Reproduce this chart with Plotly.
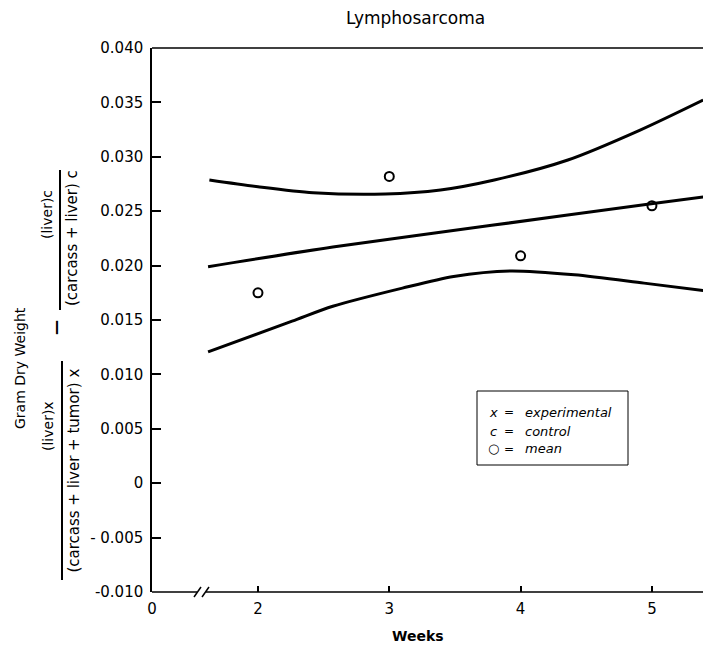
import plotly.graph_objects as go

# ---- data ----
mean_weeks = [2, 3, 4, 5]
mean_vals = [0.0175, 0.0282, 0.0209, 0.0255]

upper_weeks = [1.63, 2.0, 2.42, 2.97, 3.39, 3.80, 4.36, 4.91, 5.39]
upper_vals = [0.02787, 0.02725, 0.0267, 0.02658, 0.02695, 0.02787, 0.02971, 0.03246, 0.03522]

middle_weeks = [1.62, 2.57, 3.78, 5.01, 5.39]
middle_vals = [0.0199, 0.0217, 0.0237, 0.0257, 0.0263]

lower_weeks = [1.62, 2.26, 2.57, 3.10, 3.49, 3.92, 4.41, 4.94, 5.39]
lower_vals = [0.01207, 0.01489, 0.01626, 0.01793, 0.0190, 0.01951, 0.01915, 0.01839, 0.01772]

x_tickvals = [1.193, 2, 3, 4, 5]
x_ticktext = ["0", "2", "3", "4", "5"]
y_tickvals = [0.040, 0.035, 0.030, 0.025, 0.020, 0.015, 0.010, 0.005, 0.0, -0.005, -0.010]
y_ticktext = ["0.040", "0.035", "0.030", "0.025", "0.020", "0.015", "0.010", "0.005", "0", "- 0.005", "-0.010"]

FONT = "DejaVu Sans"
W, H = 703, 648
L, R, T, B = 152, 0, 48, 56
PW, PH = W - L - R, H - T - B


def px(x):
    return (x - L) / PW


def py(y):
    return (H - B - y) / PH


fig = go.Figure()
for xs, ys in [(upper_weeks, upper_vals), (middle_weeks, middle_vals), (lower_weeks, lower_vals)]:
    fig.add_trace(go.Scatter(x=xs, y=ys, mode="lines",
                             line=dict(color="black", width=3, shape="spline", smoothing=0.8),
                             showlegend=False, hoverinfo="skip"))
fig.add_trace(go.Scatter(x=mean_weeks, y=mean_vals, mode="markers",
                         marker=dict(symbol="circle-open", size=9, color="black",
                                     line=dict(width=2, color="black")),
                         showlegend=False))

shapes = []
line_style = dict(color="black", width=1.5)
# top frame line
shapes.append(dict(type="line", xref="paper", yref="paper", x0=0, x1=1, y0=1, y1=1, line=line_style))
# bottom axis with break
shapes.append(dict(type="line", xref="paper", yref="paper", x0=0, x1=px(197), y0=0, y1=0, line=line_style))
shapes.append(dict(type="line", xref="paper", yref="paper", x0=px(206), x1=1, y0=0, y1=0, line=line_style))
for a, b in [(194, 201), (202, 209)]:
    shapes.append(dict(type="line", xref="paper", yref="paper", x0=px(a), x1=px(b),
                       y0=py(597), y1=py(587), line=line_style))
# fraction bars of the y title
shapes.append(dict(type="line", xref="paper", yref="paper", x0=px(60), x1=px(60),
                   y0=py(170), y1=py(310), line=dict(color="black", width=2)))
shapes.append(dict(type="line", xref="paper", yref="paper", x0=px(62), x1=px(62),
                   y0=py(361), y1=py(580), line=dict(color="black", width=2)))
# legend box
shapes.append(dict(type="rect", xref="paper", yref="paper", x0=px(477), x1=px(628),
                   y0=py(465), y1=py(391), line=dict(color="black", width=1)))

ann = []


def add_text(text, x, y, size=14, angle=0, xanchor="center"):
    ann.append(dict(text=text, xref="paper", yref="paper", x=px(x), y=py(y),
                    xanchor=xanchor, yanchor="middle", showarrow=False, textangle=angle,
                    font=dict(family=FONT, size=size, color="black")))


add_text("Lymphosarcoma", 415, 18, size=17)
add_text("<b>Weeks</b>", 418, 636, size=14)
add_text("Gram Dry Weight", 20, 368, size=14, angle=-90)
add_text("<b>\u2014</b>", 56, 328, size=15, angle=-90)
add_text("(liver)c", 47, 215, size=14, angle=-90)
add_text("(carcass + liver) c", 72, 238, size=15, angle=-90)
add_text("(liver)x", 48, 426, size=14, angle=-90)
add_text("(carcass + liver + tumor) x", 73.6, 471, size=15, angle=-90)

leg_rows = [("<i>x</i>", "experimental", 412), ("<i>c</i>", "control", 431), ("\u25cb", "mean", 449)]
for sym, word, yy in leg_rows:
    add_text(sym, 493, yy, size=13)
    add_text("=", 509, yy, size=12)
    add_text("<i>" + word + "</i>", 523, yy, size=13, xanchor="left")

fig.update_layout(
    width=W, height=H,
    margin=dict(l=L, r=R, t=T, b=B),
    paper_bgcolor="white", plot_bgcolor="white",
    font=dict(family=FONT, size=15, color="black"),
    shapes=shapes, annotations=ann,
    showlegend=False,
)
fig.update_xaxes(range=[1.193, 5.389], tickvals=x_tickvals, ticktext=x_ticktext,
                 ticks="inside", ticklen=6, tickwidth=1.5, tickcolor="black",
                 showline=False, showgrid=False, zeroline=False,
                 ticklabelstandoff=6, tickfont=dict(family=FONT, size=15))
fig.update_yaxes(range=[-0.010, 0.040], tickvals=y_tickvals, ticktext=y_ticktext,
                 ticks="inside", ticklen=9, tickwidth=1.5, tickcolor="black",
                 showline=True, linecolor="black", linewidth=1.5,
                 showgrid=False, zeroline=False,
                 ticklabelstandoff=4, tickfont=dict(family=FONT, size=15))

fig.write_html("out.html", config={"displayModeBar": False},
               post_script="document.body.style.margin='0';document.body.style.overflow='hidden';")
